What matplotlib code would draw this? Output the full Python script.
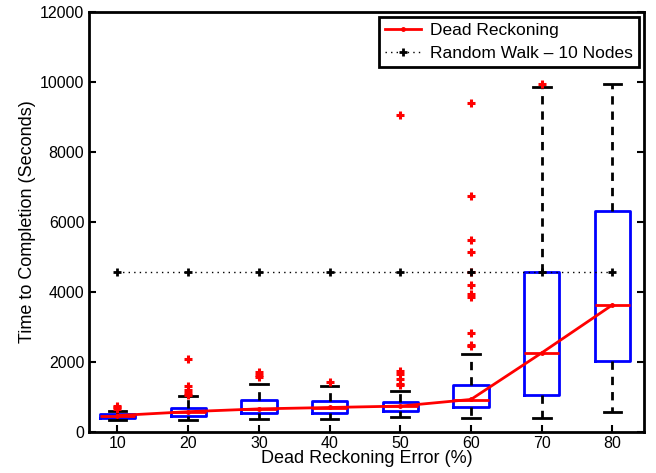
import matplotlib.pyplot as plt

plt.rcParams['font.family'] = ['Liberation Sans', 'DejaVu Sans']

errors = [10, 20, 30, 40, 50, 60, 70, 80]
q1 = [400, 460, 540, 550, 600, 700, 1060, 2040]
medians = [470, 560, 650, 690, 730, 920, 2260, 3630]
q3 = [510, 690, 910, 880, 860, 1350, 4580, 6320]
whislo = [340, 340, 370, 380, 440, 410, 390, 580]
whishi = [600, 1030, 1370, 1310, 1170, 2230, 9860, 9940]
fliers = [
    [650, 700, 740],
    [1050, 1100, 1200, 1300, 2080],
    [1560, 1620, 1700],
    [1430],
    [1330, 1380, 1500, 1650, 1750, 9070],
    [2450, 2490, 2830, 3870, 3950, 4200, 4570, 5150, 5490, 6730, 9390],
    [9930],
    [],
]
dr_line = [470, 580, 660, 700, 740, 930, 2260, 3630]
random_walk = [4570] * 8

stats = []
for i in range(len(errors)):
    stats.append(dict(med=medians[i], q1=q1[i], q3=q3[i],
                      whislo=whislo[i], whishi=whishi[i], fliers=fliers[i]))

fig = plt.figure(figsize=(6.56, 4.73), dpi=100)
ax = fig.add_axes([0.136, 0.0867, 0.846, 0.888])

pos = list(range(1, len(errors) + 1))
ax.bxp(stats, positions=pos, widths=0.5, showcaps=True,
       boxprops=dict(color='blue', linewidth=2),
       medianprops=dict(color='red', linewidth=2),
       whiskerprops=dict(color='black', linestyle=(0, (3, 2.5)), linewidth=2),
       capprops=dict(color='black', linewidth=2),
       flierprops=dict(marker='+', markeredgecolor='red', markersize=6,
                       markeredgewidth=2.2, linestyle='none'),
       capwidths=0.25)

ax.plot(pos, dr_line, color='red', linewidth=2, marker='.', markersize=5,
        label='Dead Reckoning')
ax.plot(pos, random_walk, color='black', linestyle=(0, (1, 3)), linewidth=1,
        marker='+', markersize=6, markeredgewidth=2,
        label='Random Walk – 10 Nodes')

ax.set_xlim(0.6, 8.45)
ax.set_ylim(0, 12000)
ax.set_xticks(pos)
ax.set_xticklabels([str(e) for e in errors])
ax.set_yticks(range(0, 12001, 2000))
ax.tick_params(direction='in', labelsize=11.5, width=1.5, length=5, top=False, right=True)
ax.tick_params(axis='x', pad=3)
for s in ax.spines.values():
    s.set_linewidth(2)

ax.set_xlabel('Dead Reckoning Error (%)', fontsize=13, labelpad=-1)
ax.set_ylabel('Time to Completion (Seconds)', fontsize=13, labelpad=3)

leg = ax.legend(loc='upper right', fontsize=12.5, fancybox=False, framealpha=1,
                edgecolor='black', borderaxespad=0.3, handlelength=2.1,
                borderpad=0.35, labelspacing=0.45, handletextpad=0.5)
leg.get_frame().set_linewidth(2)

fig.savefig('out.png', dpi=100)
